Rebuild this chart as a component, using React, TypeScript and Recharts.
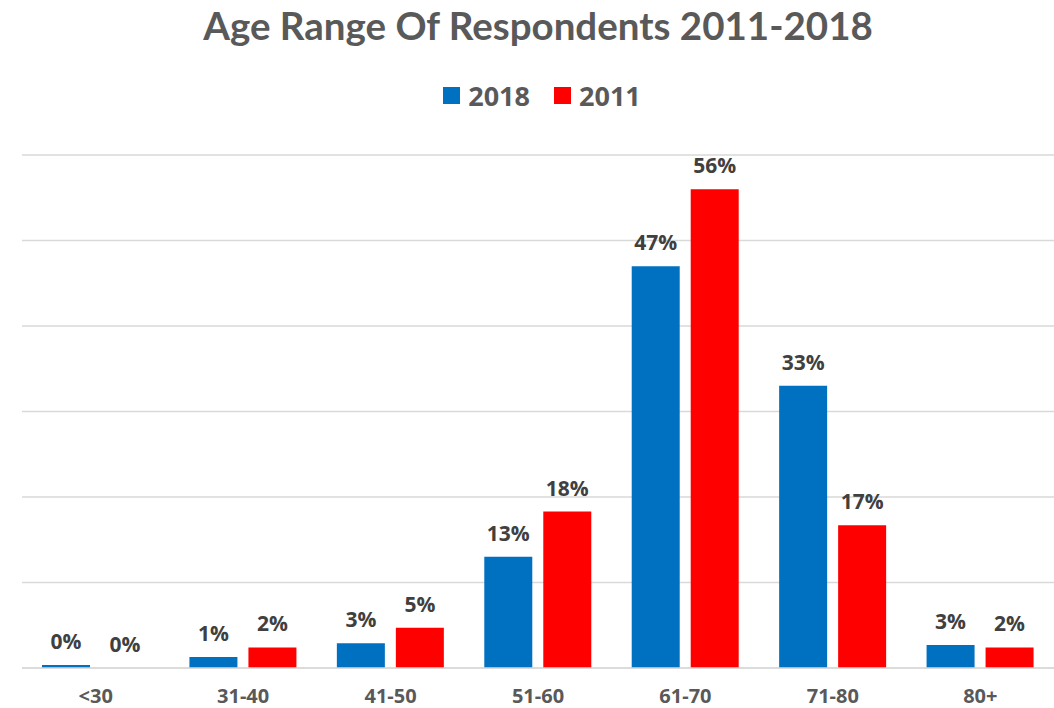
import { BarChart, Bar, XAxis, YAxis, CartesianGrid, LabelList } from 'recharts';

const ageRanges = ['<30', '31-40', '41-50', '51-60', '61-70', '71-80', '80+'];
const share2018 = [0.35, 1.3, 2.9, 13, 47, 33, 2.7];
const share2011 = [0, 2.4, 4.7, 18.3, 56, 16.7, 2.4];
const yTicks = [0, 10, 20, 30, 40, 50, 60];

const data = ageRanges.map((range, i) => ({
  range,
  y2018: share2018[i],
  y2011: share2011[i],
}));

const TITLE_FONT = 'Lato, "Open Sans", sans-serif';
const FONT = '"Open Sans", Lato, sans-serif';
const BLUE = '#0070C0';
const RED = '#FF0000';

const pct = (v: any) => `${Math.round(Number(v))}%`;

export default function App() {
  return (
    <div
      style={{
        position: 'absolute',
        left: 0,
        top: 0,
        width: 1054,
        height: 708,
        background: '#fff',
        fontFamily: FONT,
      }}
    >
      <div
        style={{
          position: 'absolute',
          top: 2,
          left: 0,
          width: 1076,
          textAlign: 'center',
          fontSize: 38.5,
          fontWeight: 700,
          color: '#595959',
          fontFamily: TITLE_FONT,
        }}
      >
        Age Range Of Respondents 2011-2018
      </div>
      <div
        style={{
          position: 'absolute',
          top: 77,
          left: 0,
          width: 1084,
          display: 'flex',
          justifyContent: 'center',
          alignItems: 'center',
          fontSize: 27,
          fontWeight: 700,
          color: '#595959',
        }}
      >
        <span style={{ width: 17, height: 17, background: BLUE, marginRight: 8 }} />
        <span style={{ marginRight: 24 }}>2018</span>
        <span style={{ width: 17, height: 17, background: RED, marginRight: 8 }} />
        <span>2011</span>
      </div>
      <BarChart
        width={1054}
        height={708}
        data={data}
        margin={{ top: 155, right: 0, left: 22, bottom: 0 }}
        barSize={48}
        barGap={11}
      >
        <CartesianGrid vertical={false} stroke="#d9d9d9" strokeWidth={1.5} />
        <XAxis
          dataKey="range"
          height={40}
          tickLine={false}
          axisLine={{ stroke: '#d9d9d9', strokeWidth: 1.5 }}
          tick={{ fontSize: 20, fontWeight: 700, fill: '#595959', fontFamily: FONT }}
          tickMargin={15}
        />
        <YAxis hide domain={[0, 60]} ticks={yTicks} />
        <Bar dataKey="y2018" fill={BLUE} isAnimationActive={false}>
          <LabelList
            dataKey="y2018"
            position="top"
            offset={16}
            formatter={pct}
            fontSize={21}
            fontWeight={700}
            fill="#404040"
            fontFamily={FONT}
          />
        </Bar>
        <Bar dataKey="y2011" fill={RED} minPointSize={0.01} isAnimationActive={false}>
          <LabelList
            dataKey="y2011"
            position="top"
            offset={16}
            formatter={pct}
            fontSize={21}
            fontWeight={700}
            fill="#404040"
            fontFamily={FONT}
          />
        </Bar>
      </BarChart>
    </div>
  );
}
